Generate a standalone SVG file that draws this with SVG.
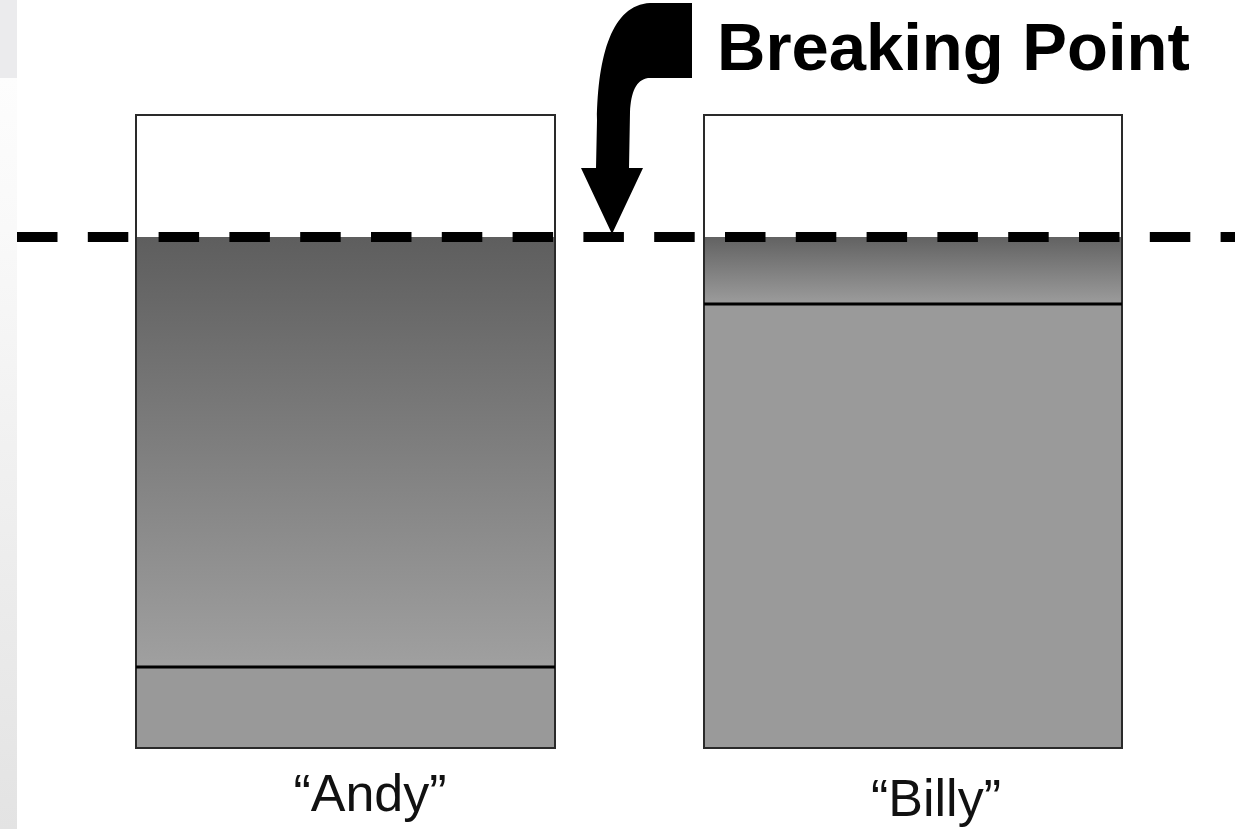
<svg xmlns="http://www.w3.org/2000/svg" width="1235" height="829" viewBox="0 0 1235 829">
<defs>
<linearGradient id="gA" x1="0" y1="0" x2="0" y2="1">
<stop offset="0" stop-color="#5e5e5e"/>
<stop offset="1" stop-color="#a0a0a0"/>
</linearGradient>
<linearGradient id="gB" x1="0" y1="0" x2="0" y2="1">
<stop offset="0" stop-color="#626262"/>
<stop offset="1" stop-color="#9c9c9c"/>
</linearGradient>
<linearGradient id="gS" x1="0" y1="0" x2="0" y2="1">
<stop offset="0" stop-color="#fdfdfd"/>
<stop offset="0.2" stop-color="#f9f9f9"/>
<stop offset="1" stop-color="#e3e3e3"/>
</linearGradient>
<style>
.box{stroke:#2a2a2a;stroke-width:2}
.div{stroke:#000;stroke-width:3}
.lbl{font-family:"Liberation Sans",Arial,sans-serif;font-size:52px;fill:#111}
.title{font-family:"Liberation Sans",Arial,sans-serif;font-size:67px;font-weight:bold;fill:#000}
</style>
</defs>
<rect x="0" y="0" width="1235" height="829" fill="#ffffff"/>
<rect x="0" y="0" width="17" height="78" fill="#ebebed"/>
<rect x="0" y="78" width="17" height="751" fill="url(#gS)"/>

<g id="andy">
<rect x="136" y="115" width="419" height="633" fill="#ffffff" class="box"/>
<rect x="137" y="237" width="417" height="430" fill="url(#gA)"/>
<rect x="137" y="667" width="417" height="80" fill="#999999"/>
<rect x="136" y="115" width="419" height="633" fill="none" class="box"/>
<line x1="136" y1="667" x2="555" y2="667" class="div"/>
<text class="lbl" x="370" y="811" text-anchor="middle">“Andy”</text>
</g>

<g id="billy">
<rect x="704" y="115" width="418" height="633" fill="#ffffff" class="box"/>
<rect x="705" y="237" width="416" height="67" fill="url(#gB)"/>
<rect x="705" y="304" width="416" height="443" fill="#9a9a9a"/>
<rect x="704" y="115" width="418" height="633" fill="none" class="box"/>
<line x1="704" y1="304" x2="1122" y2="304" class="div"/>
<text class="lbl" x="936" y="816" text-anchor="middle">“Billy”</text>
</g>

<g id="breaking-point">
<path d="M 692 3 L 692 78 L 648 78 C 636 80 631 92 630 112 L 629 168 L 643 168 L 612 234 L 581 168 L 596 168 L 597 120 C 598 55 612 5 650 3 Z" fill="#000"/>
<text class="title" x="717" y="70">Breaking Point</text>
</g>

<g id="connectors">
<line x1="17" y1="237" x2="1235" y2="237" stroke="#000" stroke-width="10" stroke-dasharray="40.5 30.3"/>
</g>
</svg>
